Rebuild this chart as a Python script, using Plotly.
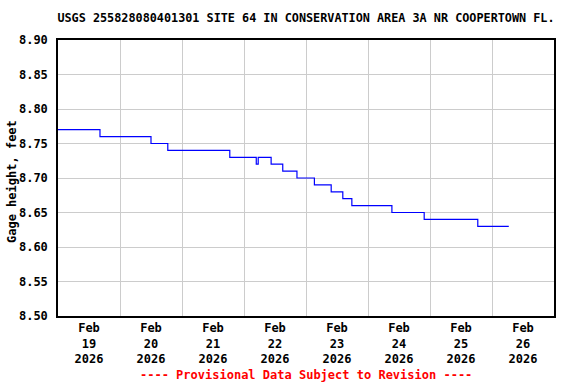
import plotly.graph_objects as go

title_text = "USGS 255828080401301 SITE 64 IN CONSERVATION AREA 3A NR COOPERTOWN FL."
y_label = "Gage height, feet"
footer = "---- Provisional Data Subject to Revision ----"

times = [
    "2026-02-19 00:00", "2026-02-19 16:15", "2026-02-20 12:00", "2026-02-20 18:30",
    "2026-02-21 18:30", "2026-02-22 04:45", "2026-02-22 05:30", "2026-02-22 10:30",
    "2026-02-22 15:00", "2026-02-22 20:30", "2026-02-23 03:15", "2026-02-23 09:45",
    "2026-02-23 14:15", "2026-02-23 17:45", "2026-02-24 09:15", "2026-02-24 21:45",
    "2026-02-25 18:30", "2026-02-26 06:30",
]
gage = [
    8.77, 8.76, 8.75, 8.74,
    8.73, 8.72, 8.73, 8.72,
    8.71, 8.70, 8.69, 8.68,
    8.67, 8.66, 8.65, 8.64,
    8.63, 8.63,
]

FONT = "DejaVu Sans Mono"

fig = go.Figure()
fig.add_trace(go.Scatter(x=times, y=gage, mode="lines", line_shape="hv",
                         line=dict(color="#0000ff", width=1.2), showlegend=False,
                         hoverinfo="skip"))

fig.update_layout(
    width=576, height=384,
    margin=dict(l=58, r=22, t=40, b=68, autoexpand=False),
    paper_bgcolor="white", plot_bgcolor="white",
    title=dict(text=title_text, x=306 / 576, xanchor="center", xref="container",
               y=1 - 18 / 384, yanchor="middle", yref="container",
               font=dict(family=FONT, size=11.8, color="black", weight="bold")),
    font=dict(family=FONT, size=12, color="black", weight="bold"),
    xaxis=dict(type="date", range=["2026-02-19", "2026-02-27"], automargin=False,
               dtick=86400000, tick0="2026-02-19", ticklabelmode="period",
               tickformat="%b<br>%d<br>%Y", showgrid=True, gridcolor="#cccccc",
               gridwidth=1, showline=True, linecolor="black", linewidth=1.5,
               mirror=True, ticks="", zeroline=False,
               tickfont=dict(family=FONT, size=12, color="black", weight="bold")),
    yaxis=dict(range=[8.50, 8.90], dtick=0.05, tick0=8.50, tickformat=".2f",
               automargin=False,
               showgrid=True, gridcolor="#cccccc", gridwidth=1, showline=True,
               linecolor="black", linewidth=1.5, mirror=True, ticks="",
               zeroline=False, ticklabelstandoff=6,
               tickfont=dict(family=FONT, size=12, color="black", weight="bold")),
    annotations=[
        dict(text=footer, x=(306 - 58) / 496, xref="paper",
             y=-(375 - 316) / 276, yref="paper", yanchor="middle",
             showarrow=False,
             font=dict(family=FONT, size=12, color="#ff0000", weight="bold")),
        dict(text=y_label, textangle=-90, x=(12 - 58) / 496, xref="paper",
             xanchor="center", y=(316 - 182) / 276, yref="paper", yanchor="middle",
             showarrow=False,
             font=dict(family=FONT, size=12, color="black", weight="bold")),
    ],
)

fig.write_html("out.html", config={"displayModeBar": False},
               post_script="document.body.style.margin='0';document.body.style.padding='0';")
